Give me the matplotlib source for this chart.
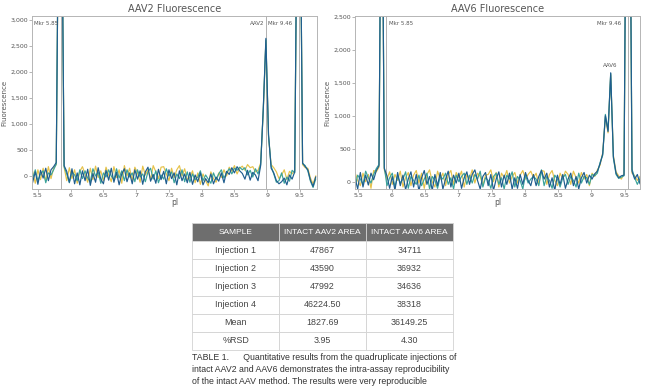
import matplotlib
matplotlib.use("Agg")
import matplotlib.pyplot as plt
import numpy as np

# pI grids (one per panel), spacing 0.04
aav2_pi = np.round(5.42 + 0.04 * np.arange(109), 2)
aav6_pi = np.round(5.45 + 0.04 * np.arange(108), 2)

# AAV2 injections (fluorescence, marker peaks run off scale)
aav2_blue = [
    -120, 80, -160, 110, -40, 150, -90, 120, 180, 260,
    6000, 6000, 200, 90, -120, 140, -150, 60, -170, 100,
    -90, 130, -180, 50, -120, 160, -60, -150, 110, -80,
    150, -120, 70, -170, 40, 140, -110, 60, -150, 120,
    -60, 100, -160, 80, 170, -100, 30, -140, 130, -70,
    90, -150, 120, -50, 60, -170, 100, -90, 40, -130,
    70, -160, 20, -110, 60, -170, -50, -130, 40, -150,
    -20, -100, 60, -130, 90, 30, 160, 60, 180, 100,
    50, -60, 110, -80, 70, 20, -90, 200, 1300, 2650,
    800, 150, 60, -90, -150, -110, -40, -170, 20, -60,
    80, 6000, 6000, 250, 180, 120, -80, -200, -20,
]
aav2_yellow = [
    90, -140, 120, -70, 150, -100, 180, -50, 150, 220,
    6000, 6000, 170, -90, 160, -50, 120, -140, 90, 180,
    40, -120, 150, -70, 190, -30, 100, -90, 170, 20,
    -110, 180, -30, 120, -140, 200, 0, 150, -90, 170,
    60, -120, 190, 20, 120, -70, 200, 80, -50, 170,
    180, 40, -90, 150, -30, 120, 200, 0, 140, -70,
    -30, 100, -130, 60, -160, 40, -90, -190, 80, -50,
    -120, 60, -30, 120, 0, 170, 90, 200, 40, 150,
    190, 110, 220, 160, 180, 80, 110, 250, 1250, 2600,
    750, 220, 160, 80, -50, 20, 120, -70, 90, 40,
    110, 6000, 6000, 220, 160, 150, -40, -150, 0,
]
aav2_teal = [
    -50, 120, -90, 40, 100, -130, 60, 20, 120, 230,
    6000, 6000, 180, 40, -130, 80, 20, -90, 120, -50,
    100, -40, -110, 140, 0, 80, -140, 60, -20, 120,
    0, -70, 140, -40, 100, -90, 120, -20, 60, -110,
    120, -20, 40, -110, 80, 150, -60, 100, -130, 20,
    -60, 140, 0, 80, -130, 40, -50, 120, -110, 80,
    -120, 40, -70, -20, 100, -90, 20, -60, -140, 60,
    -70, 40, 120, -40, 60, 140, 40, 150, 110, 170,
    120, 160, 20, 110, -20, 140, 40, 220, 1280, 2620,
    780, 190, 40, -120, -90, 60, -140, -20, -100, 110,
    60, 6000, 6000, 240, 200, 100, -100, -220, -60,
]

# AAV6 injections
aav6_blue = [
    60, -110, 140, -80, 100, -50, 130, 30, 170, 240,
    6000, 200, 90, -100, 80, -130, 140, -60, 100, -120,
    40, 150, -80, 110, -140, 60, 170, -40, 80, -130,
    110, -60, 140, -110, 40, 160, -80, 100, -20, 130,
    -100, 60, 150, -40, 110, 180, 20, -110, 80, 140,
    -60, 110, -130, 40, 150, -80, 100, -40, 130, -110,
    60, -100, 110, -40, 140, 20, -60, 110, -60, 80,
    170, 40, 130, -80, 60, -130, 100, -40, 110, -100,
    40, 130, -60, 80, -110, 60, 140, -20, 100, 40,
    120, 160, 270, 420, 1000, 760, 1650, 380, 130, 60,
    90, 100, 6000, 6000, 160, 40, 110, -30,
]
aav6_yellow = [
    140, 20, -60, 130, 0, 110, -100, 170, 150, 220,
    6000, 180, 40, 150, -40, 110, 20, 160, -80, 60,
    140, -60, 100, 170, -20, 130, -100, 110, 180, 0,
    -80, 160, 40, 130, -60, 110, 170, -40, 140, 60,
    160, -80, 110, 40, 180, -20, 130, 80, -60, 100,
    110, 180, 0, 140, -80, 130, 60, 170, -20, 80,
    140, -20, 100, 170, 40, 110, 160, 60, 130, -40,
    170, 160, -40, 110, 170, 20, -60, 130, 40, 160,
    110, -40, 160, 60, -20, 140, 40, 110, -60, 130,
    80, 180, 250, 440, 980, 740, 1620, 400, 150, 90,
    40, 120, 6000, 6000, 130, 90, 20, 80,
]
aav6_teal = [
    -80, 100, 40, -40, 160, 60, -20, 110, 200, 260,
    6000, 220, -60, 60, 130, -80, 80, -20, 40, 150,
    -100, 80, 20, -40, 100, -60, 40, 130, -110, 80,
    20, -100, 80, 40, 130, -40, 60, -110, 100, 0,
    80, 130, -40, 100, -20, 110, 40, 160, -80, 60,
    20, -100, 80, 130, -40, 60, -110, 100, 40, 150,
    -80, 80, 20, -110, 100, -20, 40, 80, 40, -60,
    180, -60, 80, 20, -100, 100, 40, -80, 60, 110,
    -40, 80, 20, -80, 130, -20, 80, 60, -40, 110,
    90, 130, 290, 400, 1020, 780, 1640, 360, 110, 50,
    70, 90, 6000, 6000, 190, 60, -40, 50,
]

trace_colors = ["#e6c24a", "#3aa39a", "#1f5d8e"]

# peak marker lines
aav2_lines = [5.86, 8.976, 9.49]
aav6_lines = [5.91, 9.545]

# table
col_labels = ["SAMPLE", "INTACT AAV2 AREA", "INTACT AAV6 AREA"]
samples = ["Injection 1", "Injection 2", "Injection 3", "Injection 4", "Mean", "%RSD"]
aav2_area = ["47867", "43590", "47992", "46224.50", "1827.69", "3.95"]
aav6_area = ["34711", "36932", "34636", "38318", "36149.25", "4.30"]

caption = ["TABLE 1.      Quantitative results from the quadruplicate injections of",
           "intact AAV2 and AAV6 demonstrates the intra-assay reproducibility",
           "of the intact AAV method. The results were very reproducible"]

narrow = ["Liberation Sans Narrow", "Liberation Sans", "DejaVu Sans"]
txt = "#555555"
fig = plt.figure(figsize=(6.5, 3.91), dpi=100)


def panel(rect, x, traces, xlim, ylim, yticks, lines, title):
    ax = fig.add_axes(rect)
    for vx in lines:
        ax.axvline(vx, color="#b0b0b0", lw=0.7, zorder=1)
    for y, c in zip(traces, trace_colors):
        ax.plot(x, y, color=c, lw=0.85, zorder=2)
    ax.set_xlim(*xlim)
    ax.set_ylim(*ylim)
    ax.set_xticks([5.5, 6, 6.5, 7, 7.5, 8, 8.5, 9, 9.5])
    ax.set_xticklabels(["5.5", "6", "6.5", "7", "7.5", "8", "8.5", "9", "9.5"])
    ax.set_yticks(yticks)
    ax.set_yticklabels([f"{v:,}" for v in yticks])
    ax.tick_params(labelsize=4.5, colors="#999999", labelcolor=txt, length=2, width=0.5, pad=1)
    for s in ax.spines.values():
        s.set_color("#b5b5b5")
        s.set_linewidth(0.7)
    ax.set_xlabel("pI", fontsize=5.5, color=txt, labelpad=0)
    ax.set_ylabel("Fluorescence", fontsize=5, color=txt, labelpad=2)
    ax.set_title(title, fontsize=7, color=txt, pad=3)
    return ax


ax1 = panel([32 / 650, 1 - 189 / 391, 285 / 650, 173 / 391], aav2_pi,
            [aav2_yellow, aav2_teal, aav2_blue], (5.41, 9.76), (-250, 3080),
            [0, 500, 1000, 1500, 2000, 2500, 3000], aav2_lines, "AAV2 Fluorescence")
lab = dict(fontsize=4, color=txt, va="top")
ax1.text(5.44, 2990, "Mkr 5.85", ha="left", **lab)
ax1.text(8.955, 2990, "AAV2", ha="right", **lab)
ax1.text(9.38, 2990, "Mkr 9.46", ha="right", **lab)

ax2 = panel([355 / 650, 1 - 189 / 391, 285 / 650, 173 / 391], aav6_pi,
            [aav6_yellow, aav6_teal, aav6_blue], (5.45, 9.73), (-110, 2510),
            [0, 500, 1000, 1500, 2000, 2500], aav6_lines, "AAV6 Fluorescence")
ax2.text(5.96, 2440, "Mkr 5.85", ha="left", **lab)
ax2.text(9.45, 2440, "Mkr 9.46", ha="right", **lab)
ax2.text(9.29, 1800, "AAV6", ha="center", **lab)

# table
tax = fig.add_axes([192 / 650, 1 - 350 / 391, 261 / 650, 127 / 391])
tax.axis("off")
cells = [[s, a, b] for s, a, b in zip(samples, aav2_area, aav6_area)]
tbl = tax.table(cellText=cells, colLabels=col_labels, cellLoc="center",
                bbox=[0, 0, 1, 1])
tbl.auto_set_font_size(False)
for (r, c), cell in tbl.get_celld().items():
    cell.set_edgecolor("#d2d2d2")
    cell.set_linewidth(0.6)
    cell.get_text().set_family(narrow)
    if r == 0:
        cell.set_facecolor("#6e6e6e")
        cell.get_text().set_color("white")
        cell.get_text().set_fontsize(6)
    else:
        cell.get_text().set_color("#444444")
        cell.get_text().set_fontsize(6.4)

for k, line in enumerate(caption):
    fig.text(192 / 650, 1 - (357 + 12 * k) / 391, line, fontsize=6.3, color="#333333",
             va="center", ha="left", family=narrow)

fig.savefig("out.png", dpi=100)
